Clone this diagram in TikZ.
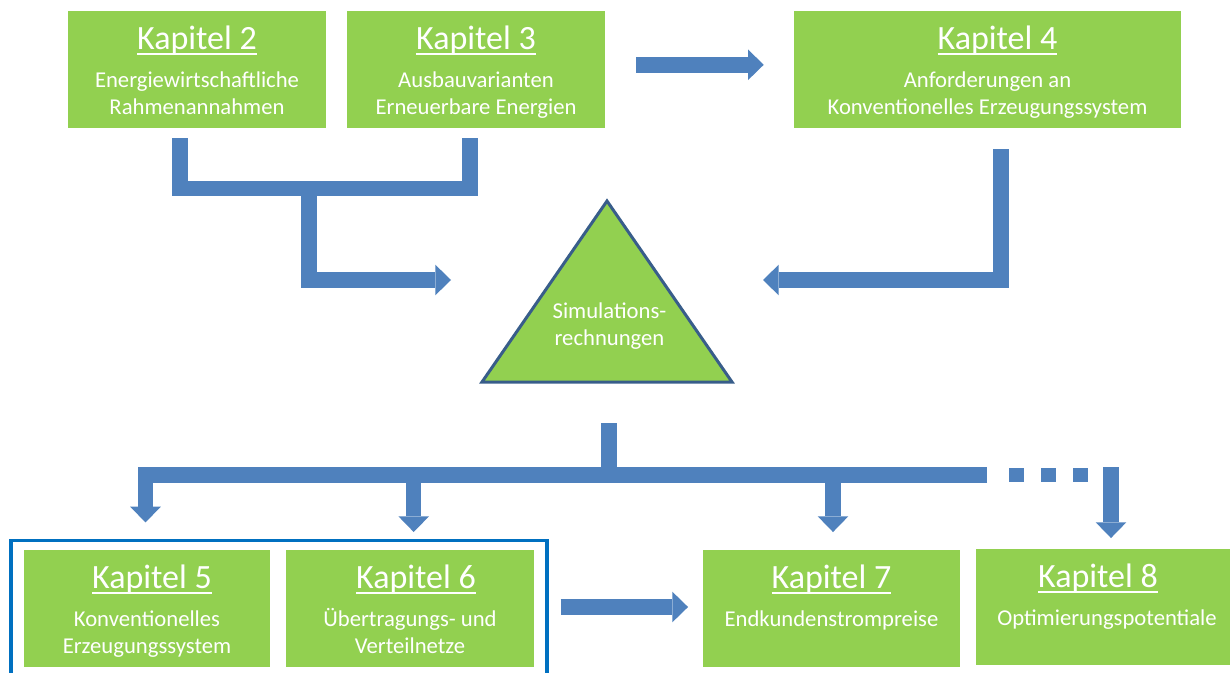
\documentclass[tikz,border=0pt]{standalone}
\usepackage{fontspec}
\setmainfont{Carlito}
\usetikzlibrary{arrows.meta,fit}
\definecolor{kapgruen}{HTML}{92D050}
\definecolor{pfeilblau}{HTML}{4F81BD}
\definecolor{randblau}{HTML}{385D8A}
\definecolor{rahmenblau}{HTML}{0070C0}
\newcommand{\unterstrich}[1]{\setbox0\hbox{#1}\rlap{\rule[-4.3pt]{\wd0}{2.2pt}}\box0}

\begin{document}
\begin{tikzpicture}[x=0.75pt, y=-0.75pt,
      every node/.append style={text=white, inner sep=0pt},
      kap/.style={fill=kapgruen, minimum height=87.75pt},
      titel/.style={anchor=base, font=\fontsize{25.5pt}{30pt}\selectfont},
      inhalt/.style={anchor=base, align=center, font=\fontsize{17pt}{20pt}\selectfont},
      balken/.style={draw=pfeilblau, line width=11.6pt},
      pfeil/.style={balken, -{Triangle[width=23pt, length=11.8pt, line width=0pt]}},
      rahmen/.style={draw=rahmenblau, line width=2.6pt, inner xsep=9.5pt, inner ysep=6.75pt}]
    \useasboundingbox (0,0) rectangle (1230,673);
    \tikzstyle{dreieck} = [fill=kapgruen, draw=randblau, line width=2.25pt]

    % obere Reihe (zweizeilige Texte stehen auf der letzten Grundlinie)
    \node[kap, minimum width=193.5pt] (k2) at (197,69.5) {};
    \node[titel] (k2t) at ([yshift=-29.25pt]k2.north) {\unterstrich{Kapitel 2}};
    \node[inhalt] (k2i) at ([yshift=-77.75pt]k2.north) {Energiewirtschaftliche\\Rahmenannahmen};
    \node[kap, minimum width=193.5pt] (k3) at (476,69.5) {};
    \node[titel] (k3t) at ([yshift=-29.25pt]k3.north) {\unterstrich{Kapitel 3}};
    \node[inhalt] (k3i) at ([yshift=-77.75pt]k3.north) {Ausbauvarianten\\Erneuerbare Energien};
    \node[kap, minimum width=290.25pt] (k4) at (987.5,69.5) {};
    \node[titel] (k4t) at ([shift={(10,39)}]k4.north) {\unterstrich{Kapitel 4}};
    \node[inhalt] (k4i) at ([yshift=-77.75pt]k4.north) {Anforderungen an\\Konventionelles Erzeugungssystem};

    % Simulation
    \coordinate (spitze) at (607,201);
    \coordinate (basis) at (607,382);
    \draw[dreieck] (spitze) -- (732,382) -- (482,382) -- cycle;
    \node[inhalt] (sim) at (609.5,345) {Simulations-\\rechnungen};

    % untere Reihe
    \node[kap, minimum width=184.5pt] (k5) at (147,608.5) {};
    \node[titel] (k5t) at ([shift={(5,39)}]k5.north) {\unterstrich{Kapitel 5}};
    \node[inhalt] (k5i) at ([yshift=-77.75pt]k5.north) {Konventionelles\\Erzeugungssystem};
    \node[kap, minimum width=186pt] (k6) at (410,608.5) {};
    \node[titel] (k6t) at ([shift={(6,39)}]k6.north) {\unterstrich{Kapitel 6}};
    \node[inhalt] (k6i) at ([yshift=-77.75pt]k6.north) {Übertragungs- und\\Verteilnetze};
    \node[kap, minimum width=192.75pt] (k7) at (831.5,608.5) {};
    \node[titel] (k7t) at ([yshift=-29.25pt]k7.north) {\unterstrich{Kapitel 7}};
    \node[inhalt] (k7i) at ([yshift=-57.75pt]k7.north) {Endkundenstrompreise};
    \node[kap, minimum width=190.5pt, minimum height=87pt] (k8) at (1103,607) {};
    \node[titel] (k8t) at ([shift={(-5,39)}]k8.north) {\unterstrich{Kapitel 8}};
    \node[inhalt] (k8i) at ([shift={(4,77)}]k8.north) {Optimierungspotentiale};
    \node[rahmen, fit=(k5)(k6)] (gruppe) {};

    % Verbindungen oben
    \coordinate (sammel) at (309,188);
    \coordinate (links) at (451,280);
    \coordinate (rechts) at (763,280);
    \draw[balken] ([shift={(-17,10)}]k2.south) |- ([shift={(-6,60)}]k3.south) -- ([shift={(-6,10)}]k3.south);
    \draw[pfeil] (sammel) |- (links);
    \draw[pfeil] ([shift={(31,-4.7)}]k3.east) -- ([shift={(-30,-4.7)}]k4.west);
    \draw[pfeil] ([shift={(13.5,21)}]k4.south) |- (rechts);

    % Verbindungen unten
    \coordinate (verteiler) at (609,475);
    \coordinate (balkenende) at (987,475);
    \coordinate (k5pfeil) at ([shift={(-1.5,-27.3)}]k5.north);
    \coordinate (k6pfeil) at ([shift={(3.7,-17.7)}]k6.north);
    \coordinate (k7pfeil) at ([shift={(1.5,-17.7)}]k7.north);
    \coordinate (k8pfeil) at ([shift={(8,-10.7)}]k8.north);
    \draw[balken] ([yshift=-30.75pt]basis -| verteiler) -- (verteiler);
    \draw[pfeil] (balkenende) -| (k5pfeil);
    \draw[pfeil] (k6pfeil |- verteiler) -- (k6pfeil);
    \draw[pfeil] (k7pfeil |- verteiler) -- (k7pfeil);
    \draw[pfeil] ([yshift=5.8pt]k8pfeil |- verteiler) -- (k8pfeil);
    \foreach \x in {1009,1041,1073}
      \fill[pfeilblau] (\x,467.5) rectangle +(15,14.5);
    \draw[pfeil] ([shift={(12,-1.5)}]gruppe.east) -- ([shift={(-14.7,-1.5)}]k7.west);
\end{tikzpicture}
\end{document}
